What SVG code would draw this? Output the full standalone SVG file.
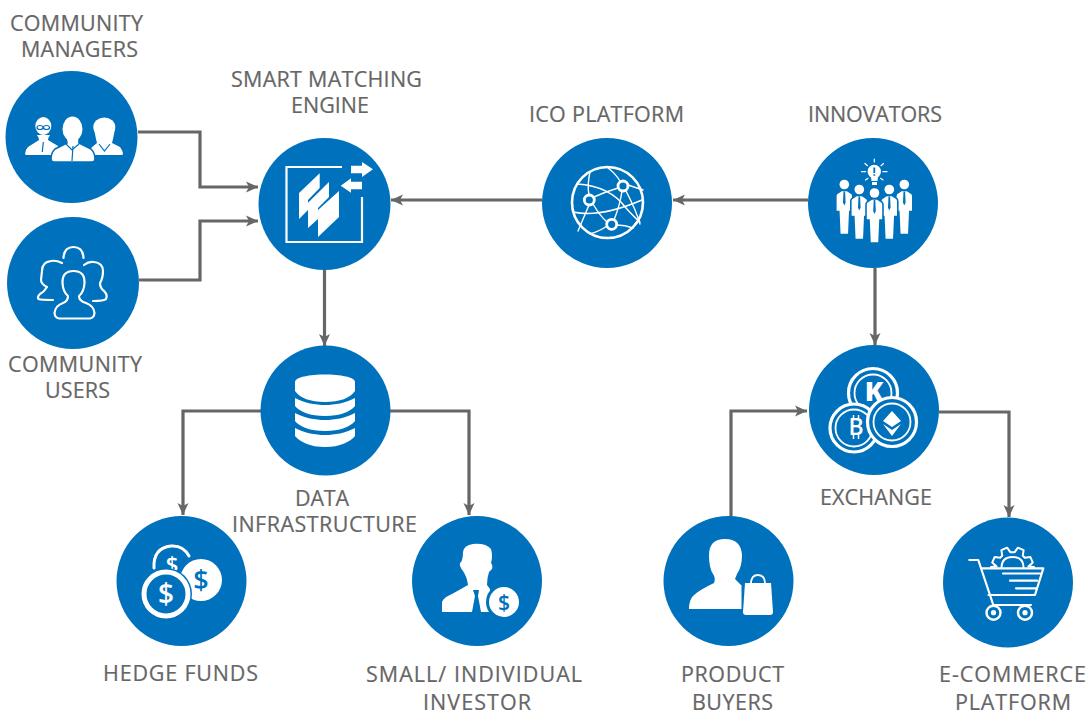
<svg xmlns="http://www.w3.org/2000/svg" xmlns:xlink="http://www.w3.org/1999/xlink" width="1089" height="713" viewBox="0 0 1089 713">
<style>
.bg{fill:#0071bc}
.lb{font-family:"Open Sans","Noto Sans","Liberation Sans",sans-serif;font-size:21.5px;fill:#666;stroke:#666;stroke-width:.2}
.w{fill:#fff}
.b{fill:#0071bc}
.o{fill:#fff;stroke:#0071bc;stroke-width:1.6}
.s{fill:none;stroke:#fff;stroke-width:2.2;stroke-linejoin:round;stroke-linecap:round}
.t{fill:none;stroke:#fff;stroke-width:1.4}
.g{fill:none;stroke:#0071bc;stroke-width:1.2}
.sym{font-family:"Open Sans","Liberation Sans",sans-serif;font-weight:600;text-anchor:middle}
.c{fill:none;stroke:#666;stroke-width:3.2;marker-end:url(#a)}
</style>
<defs>
<marker id="a" markerUnits="userSpaceOnUse" markerWidth="12" markerHeight="12" viewBox="0 0 12 12" refX="12" refY="6" orient="auto"><path d="M0 .5L12 6L0 11.5L3 6Z" fill="#666"/></marker>
<g id="fig"><path d="M-3 6H3L7.500 9Q8.500 10 8.500 12V26Q8.500 27 7 27H5.500L4.500 50H-4.500L-5.500 27H-7Q-8.500 27 -8.500 26V12Q-8.500 10 -7.500 9Z" class="o"/><circle cx="0" cy="0" r="4.800" class="w"/><path d="M-.8 7H.8L1.300 18L0 21L-1.300 18Z" class="b"/></g>
</defs>
<g id="connectors">
<path class="c" d="M138 132H200V187H258"/>
<path class="c" d="M139 280H200V221H258"/>
<path class="c" d="M542 200H391"/>
<path class="c" d="M808 200H673"/>
<path class="c" d="M324.500 270V346"/>
<path class="c" d="M261 411H183V515"/>
<path class="c" d="M390 411H469V515"/>
<path class="c" d="M875 268V345"/>
<path class="c" d="M731 517V411H807"/>
<path class="c" d="M939 412H1009V517"/>
</g>
<g id="community-managers">
<circle class="bg" cx="71.500" cy="137" r="66"/>
<ellipse class="w" cx="43.300" cy="126" rx="8" ry="9"/>
<path class="w" d="M37 135Q39 138 39 140L28 147Q25 150 25 154Q25 155 27 155H56L58 146L48 140Q48 138 50 135Z"/>
<path class="g" d="M37 127.500Q37 125.500 40 125.500Q43 125.500 43 127.500Q43 129.500 40 129.500Q37 129.500 37 127.500ZM43.500 127.500Q43.500 125.500 46.500 125.500Q49.500 125.500 49.500 127.500Q49.500 129.500 46.500 129.500Q43.500 129.500 43.500 127.500ZM43.300 142L42.300 152"/>
<ellipse class="w" cx="104.300" cy="127" rx="11" ry="9.500"/>
<path class="w" d="M94 129H115L113 139L112 143L120 147Q123 151 123 154Q123 155 121 155H91V148L97 143L96 139Z"/>
<path class="g" d="M99 144L104.500 151L110 144"/>
<path class="o" d="M66 138H79L79 143L91 149Q95 153 95 159Q95 162 92 162H54Q51 162 51 159Q51 153 55 149L67 143Z"/>
<ellipse class="w" cx="72.500" cy="129" rx="10" ry="12.500"/>
<path class="g" d="M73 146L72 161M66 144L72 150L79 144"/>
<text class="lb" x="10" y="31" textLength="133">COMMUNITY</text>
<text class="lb" x="21" y="57" textLength="117">MANAGERS</text>
</g>
<g id="community-users">
<circle class="bg" cx="73" cy="283" r="66"/>
<path class="s" d="M63.500 258Q64 247 73.500 247Q83 247 83.500 258"/>
<path class="s" d="M62 263Q56 260 51 261Q42 262 42 271L41 280Q41 284 47 287Q44 292 40 294Q37 297 38.500 299Q41 300 53 300"/>
<path class="s" d="M84 265Q89 261 94 262Q103 263 103 271Q103 278 100 283Q100 288 104 291Q108 295 106 299Q104 301 93 301"/>
<path class="s" d="M62.500 283Q62 271 73.500 271Q85 271 84.500 283Q84 292 79 296Q79 301 86 303Q94 306 94.500 313Q94 318 90 318.500H59Q55 318 54.500 313Q55 306 63 303Q68 301 68 296Q63 292 62.500 283Z"/>
<text class="lb" x="8" y="372" textLength="134">COMMUNITY</text>
<text class="lb" x="45" y="398" textLength="65">USERS</text>
</g>
<g id="smart-matching-engine">
<circle class="bg" cx="324.500" cy="204" r="66"/>
<path class="s" style="stroke-linecap:butt;stroke-linejoin:miter" d="M342 167H286.500V242H362V197"/>
<path class="w" d="M299 193L319.700 173.300V188L308 200V210L299 219Z"/>
<path class="w" d="M308 202.700L329 182V197L318 208V219L308 228Z"/>
<path class="w" d="M318 210L339 191V217L318 237Z"/>
<path class="w" d="M351 165.700H362V162L373 169.300L362 177V173.300H351Z"/>
<path class="w" d="M362 181.700V189.300H351V192.700L340.700 185.700L351 178.300V181.700Z"/>
<text class="lb" x="231" y="87" textLength="191">SMART MATCHING</text>
<text class="lb" x="291" y="113" textLength="78">ENGINE</text>
</g>
<g id="ico-platform">
<circle class="bg" cx="607" cy="203" r="65"/>
<circle cx="607.500" cy="202.500" r="35.500" class="s" style="stroke-width:2.600"/>
<g class="t" style="stroke-linecap:round">
<path d="M590 172Q587 185 589 195"/>
<path d="M589 205L578 231"/>
<path d="M593 204Q600 216 607 222"/>
<path d="M594 197Q605 192 618 188"/>
<path d="M577 184Q610 186 626 208Q636 219 640 222"/>
<path d="M608 168Q615 173 620 181"/>
<path d="M628 185L643 190"/>
<path d="M573 212Q600 218 642 200"/>
<path d="M590 234Q600 231 607 226"/>
<path d="M617 225Q625 225 633 228"/>
<path d="M626 191Q636 210 640 224"/>
<path d="M614 220Q620 205 622 191"/>
</g>
<g fill="#0071bc" stroke="#fff" stroke-width="2.800"><circle cx="589.300" cy="200" r="5"/><circle cx="623" cy="186" r="5"/><circle cx="611.700" cy="224.300" r="5"/></g>
<text class="lb" x="529" y="122" textLength="155">ICO PLATFORM</text>
</g>
<g id="innovators">
<circle class="bg" cx="873" cy="203" r="65"/>
<use xlink:href="#fig" href="#fig" x="844.300" y="184.500"/>
<use xlink:href="#fig" href="#fig" x="904.300" y="184.500"/>
<use xlink:href="#fig" href="#fig" x="859.300" y="189.500"/>
<use xlink:href="#fig" href="#fig" x="889.300" y="189.500"/>
<use xlink:href="#fig" href="#fig" x="874.500" y="193"/>
<circle class="w" cx="874.300" cy="171.500" r="6.700"/>
<path class="w" d="M871 177H878L877.500 181H871.500ZM872 182H877V185H872Z"/>
<path class="s" style="stroke-width:1.200" d="M874.300 159V162M865 163.500L867.500 165.700M883.500 163.500L881 165.700M861.500 171.700H865.500M883 171.700H887M865.500 180L868 178.300M883 180L880.500 178.300"/>
<path d="M874.300 167.500V173M874.300 174.200V175.800" stroke="#0071bc" stroke-width="1.800"/>
<text class="lb" x="808" y="122" textLength="134">INNOVATORS</text>
</g>
<g id="data-infrastructure">
<circle class="bg" cx="325.500" cy="410.500" r="65"/>
<path class="w" d="M295 382C295 372 355 372 355 382V391C350 398 340 402 325 402C310 402 300 398 295 391Z"/>
<path class="w" id="band" d="M295 398C305 403 315 405 325 405C335 405 345 403 355 398V406C350 412 340 416 325 416C310 416 300 412 295 406Z"/>
<path class="w" d="M295 413C305 418 315 420 325 420C335 420 345 418 355 413V421C350 427 340 431 325 431C310 431 300 427 295 421Z"/>
<path class="w" d="M295 428C305 433 315 435 325 435C335 435 345 433 355 428V436C350 442 340 447 325 447C310 447 300 442 295 436Z"/>
<text class="lb" x="295" y="506" textLength="54">DATA</text>
<text class="lb" x="232" y="532" textLength="185">INFRASTRUCTURE</text>
</g>
<g id="hedge-funds">
<circle class="bg" cx="181.500" cy="581" r="65"/>
<path class="s" style="stroke-width:3" d="M154 568Q153 548 171 546Q183 545 189 556"/>
<text class="sym w" x="172" y="572" font-size="22">$</text>
<circle class="w" cx="201" cy="580" r="21"/>
<text class="sym b" x="201" y="590" font-size="27">$</text>
<circle cx="166" cy="594" r="26" class="bg"/>
<circle cx="166" cy="594" r="22" fill="#0071bc" stroke="#fff" stroke-width="5"/>
<text class="sym w" x="166" y="604" font-size="28">$</text>
<text class="lb" x="103" y="681" textLength="155">HEDGE FUNDS</text>
</g>
<g id="small-individual-investor">
<circle class="bg" cx="477" cy="581" r="65"/>
<path class="w" d="M463 552Q464 545 473 544Q486 543 491 549Q493 556 491 563Q493 565 492 569L489 572Q487 578 487 585L490 589V612H442V602Q444 597 452 594L468 585Q467 577 463 571Q459 566 460 563Q463 561 463 552Z"/>
<path class="b" d="M473 590H479L478 596L481 612H472L475 596Z"/>
<circle cx="504" cy="602" r="18" class="bg"/>
<circle class="w" cx="504" cy="602" r="15"/>
<text class="sym b" x="504" y="610" font-size="21">$</text>
<text class="lb" x="366" y="682" textLength="216">SMALL/ INDIVIDUAL</text>
<text class="lb" x="423" y="710" textLength="108">INVESTOR</text>
</g>
<g id="product-buyers">
<circle class="bg" cx="728.500" cy="581" r="65"/>
<path class="w" d="M709 555Q709 539 725 539Q741 539 742 555Q742 567 737 574L735 579L742 586V609H689Q689 600 693 596Q699 590 714 583Q716 578 713 574Q709 568 709 555Z"/>
<path d="M743 586V613" stroke="#0071bc" stroke-width="3"/>
<path class="w" d="M745 583H771L773 612Q773 615 770 615H746Q743 615 743 612Z"/>
<path class="s" style="stroke-width:1.800" d="M751 584Q751 575 758 575Q765 575 765 584"/>
<text class="lb" x="681" y="682" textLength="103">PRODUCT</text>
<text class="lb" x="692" y="710" textLength="81">BUYERS</text>
</g>
<g id="exchange">
<circle class="bg" cx="874" cy="410" r="65"/>
<circle cx="873" cy="393" r="24.500" fill="#0071bc" stroke="#fff" stroke-width="3.200"/>
<circle cx="873" cy="393" r="18.500" class="t" style="stroke-width:1.800"/>
<text class="sym w" style="font-weight:800" x="874" y="401" font-size="27">K</text>
<circle cx="854" cy="428" r="24" fill="#0071bc" stroke="#fff" stroke-width="3.200"/>
<circle cx="854" cy="428" r="18.500" class="t" style="stroke-width:1.800"/>
<text class="sym w" x="856" y="435" font-size="23">B</text>
<path class="s" style="stroke-width:1.500;stroke-linecap:butt" d="M853.500 415V419M858.500 415V419M853.500 435V439M858.500 435V439"/>
<circle cx="892" cy="422" r="24.500" fill="#0071bc" stroke="#fff" stroke-width="3.200"/>
<circle cx="892" cy="422" r="18.500" class="t" style="stroke-width:1.800"/>
<path class="w" d="M892 411L901 421L892 427L883 421Z"/>
<path class="w" d="M883 424L892 430L901 424L892 436Z"/>
<text class="lb" x="820" y="505" textLength="112">EXCHANGE</text>
</g>
<g id="e-commerce-platform">
<circle class="bg" cx="1008" cy="582.500" r="65"/>
<path class="s" style="stroke-width:2" d="M991 567L996.600 566.600L992.200 562.600L994.700 556.900L1000.200 557.700L1002.200 555.700L1001.400 550.200L1007.100 547.700L1010.300 552.200H1014.700L1017.900 547.700L1023.600 550.200L1022.800 555.700L1024.800 557.700L1030.300 556.900L1032.800 562.600L1028.400 566.600L1034 567"/>
<path class="s" style="stroke-width:2" d="M1001.500 567Q1002 557 1012.500 557Q1023 557 1023.500 567"/>
<path class="s" d="M969.300 560H978.300L993.300 605H1031"/>
<path class="s" d="M982 568.300H1043.300L1035 595H988.500M1003 573.500H1040M1010 580.700H1037M1016 588.300H1036"/>
<circle cx="993.500" cy="612.700" r="7" fill="#0071bc" stroke="#fff" stroke-width="2.400"/><circle cx="993.500" cy="612.700" r="2.600" class="w"/>
<circle cx="1025" cy="612.700" r="7" fill="#0071bc" stroke="#fff" stroke-width="2.400"/><circle cx="1025" cy="612.700" r="2.600" class="w"/>
<text class="lb" x="939" y="682" textLength="147">E-COMMERCE</text>
<text class="lb" x="955" y="710" textLength="116">PLATFORM</text>
</g>
</svg>
